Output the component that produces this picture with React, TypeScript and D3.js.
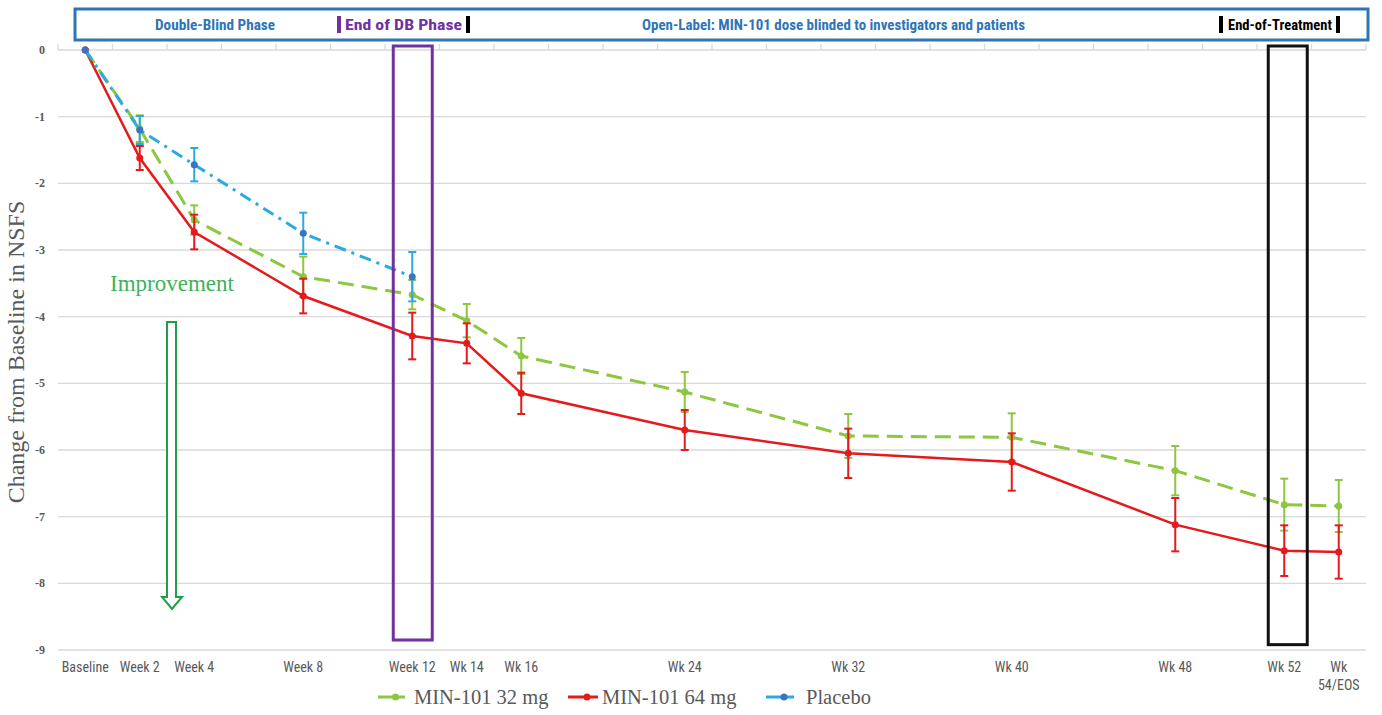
import React, { useRef, useEffect } from "react";
import * as d3 from "d3";

// visits on the x axis; slot = position on the category axis (blank categories in between)
const categories = ["Baseline", "Week 2", "Week 4", "Week 8", "Week 12", "Wk 14", "Wk 16", "Wk 24", "Wk 32", "Wk 40", "Wk 48", "Wk 52", "Wk 54/EOS"];
const slots = [0, 1, 2, 4, 6, 7, 8, 11, 14, 17, 20, 22, 23];
const slotCount = 24;

const mg32 = [0, -1.18, -2.55, -3.4, -3.67, -4.06, -4.59, -5.13, -5.79, -5.81, -6.31, -6.82, -6.84];
const mg32Err = [0, 0.2, 0.22, 0.3, 0.22, 0.25, 0.27, 0.3, 0.33, 0.36, 0.37, 0.39, 0.39];
const mg64 = [0, -1.62, -2.73, -3.69, -4.29, -4.4, -5.15, -5.7, -6.05, -6.18, -7.12, -7.51, -7.53];
const mg64Err = [0, 0.18, 0.26, 0.26, 0.35, 0.3, 0.31, 0.3, 0.37, 0.43, 0.4, 0.38, 0.4];
const placebo = [0, -1.2, -1.72, -2.75, -3.4];
const placeboErr = [0, 0.21, 0.25, 0.31, 0.37];

const yTicks = [0, -1, -2, -3, -4, -5, -6, -7, -8, -9];

const narrow = "'Liberation Sans Narrow', 'Arial Narrow', 'Roboto Condensed', 'Open Sans', sans-serif";
const serif = "'Liberation Serif', 'Times New Roman', serif";

function App() {
  const svgRef = useRef<SVGSVGElement>(null);

  useEffect(() => {
    const svg = d3.select(svgRef.current);
    svg.selectAll("*").remove();

    const x = d3.scaleBand<number>().domain(d3.range(slotCount)).range([58, 1366]).padding(0);
    const cx = (i: number) => (x(slots[i]) as number) + x.bandwidth() / 2;
    const y = d3.scaleLinear().domain([-9, 0]).range([650, 50]);

    // gridlines
    svg.append("g")
      .selectAll("line")
      .data(yTicks)
      .join("line")
      .attr("x1", 58).attr("x2", 1366)
      .attr("y1", (d) => y(d)).attr("y2", (d) => y(d))
      .attr("stroke", "#d9d9d9").attr("stroke-width", 1.3);

    // category tick marks on the zero line
    svg.append("g")
      .selectAll("line")
      .data(d3.range(slotCount + 1))
      .join("line")
      .attr("x1", (d) => 58 + d * x.step()).attr("x2", (d) => 58 + d * x.step())
      .attr("y1", y(0)).attr("y2", y(0) - 6)
      .attr("stroke", "#d9d9d9").attr("stroke-width", 1.3);

    // y tick labels
    svg.append("g")
      .selectAll("text")
      .data(yTicks)
      .join("text")
      .attr("x", 45).attr("y", (d) => y(d) + 4)
      .attr("text-anchor", "end")
      .attr("font-family", serif).attr("font-size", 12).attr("font-weight", "bold")
      .attr("fill", "#595959")
      .text((d) => String(d));

    svg.append("text")
      .attr("transform", "translate(24,352) rotate(-90)")
      .attr("text-anchor", "middle")
      .attr("font-family", serif).attr("font-size", 24)
      .attr("fill", "#595959")
      .text("Change from Baseline in NSFS");

    // x labels
    const xl = svg.append("g")
      .attr("font-family", narrow).attr("font-size", 14)
      .attr("fill", "#595959").attr("text-anchor", "middle");
    categories.forEach((c, i) => {
      const parts = c === "Wk 54/EOS" ? ["Wk", "54/EOS"] : [c];
      parts.forEach((p, j) => {
        xl.append("text").attr("x", cx(i)).attr("y", 672 + j * 18).text(p);
      });
    });

    // header box
    svg.append("rect")
      .attr("x", 75).attr("y", 9).attr("width", 1293).attr("height", 31)
      .attr("fill", "white").attr("stroke", "#2e75b6").attr("stroke-width", 3);
    const hd = svg.append("g").attr("font-family", narrow).attr("font-size", 14).attr("font-weight", "bold")
      .attr("lengthAdjust", "spacingAndGlyphs");
    const htext = (x0: number, w: number, fill: string, t: string) =>
      hd.append("text").attr("x", x0).attr("y", 30).attr("textLength", w)
        .attr("lengthAdjust", "spacingAndGlyphs").attr("fill", fill).text(t);
    htext(155, 120, "#2e75b6", "Double-Blind Phase");
    hd.append("rect").attr("x", 337).attr("y", 16).attr("width", 4).attr("height", 17).attr("fill", "#7030a0");
    htext(345, 117, "#7030a0", "End of DB Phase");
    hd.append("rect").attr("x", 466).attr("y", 16).attr("width", 4).attr("height", 17).attr("fill", "#000");
    htext(642, 383, "#2e75b6", "Open-Label: MIN-101 dose blinded to investigators and patients");
    hd.append("rect").attr("x", 1219).attr("y", 16).attr("width", 4).attr("height", 17).attr("fill", "#000");
    htext(1228, 104, "#000", "End-of-Treatment");
    hd.append("rect").attr("x", 1336).attr("y", 16).attr("width", 4).attr("height", 17).attr("fill", "#000");

    // improvement arrow
    svg.append("text")
      .attr("x", 172).attr("y", 291).attr("text-anchor", "middle")
      .attr("font-family", serif).attr("font-size", 23).attr("fill", "#3cb35a")
      .text("Improvement");
    svg.append("path")
      .attr("d", "M167,322 L176,322 L176,597 L182,597 L172,609 L162,597 L167,597 Z")
      .attr("fill", "white").attr("stroke", "#1e9e48").attr("stroke-width", 2);

    const series = [
      { vals: mg32, err: mg32Err, color: "#8dc63f", errColor: "#8dc63f", dot: "#8dc63f", dash: "16,8", width: 3 },
      { vals: mg64, err: mg64Err, color: "#e41a1c", errColor: "#e41a1c", dot: "#e41a1c", dash: null, width: 2.5 },
      { vals: placebo, err: placeboErr, color: "#29abe2", errColor: "#29abe2", dot: "#3d74c0", dash: "12,6,3,6", width: 3 },
    ];

    series.forEach((s) => {
      const g = svg.append("g");
      const line = d3.line<number>().x((_, i) => cx(i)).y((d) => y(d));
      g.append("path")
        .attr("d", line(s.vals))
        .attr("fill", "none").attr("stroke", s.color).attr("stroke-width", s.width)
        .attr("stroke-dasharray", s.dash);
      const pts = s.vals.map((v, i) => ({ v, e: s.err[i], i })).filter((d) => d.e > 0);
      g.selectAll("line.eb").data(pts).join("line")
        .attr("x1", (d) => cx(d.i)).attr("x2", (d) => cx(d.i))
        .attr("y1", (d) => y(d.v + d.e)).attr("y2", (d) => y(d.v - d.e))
        .attr("stroke", s.errColor).attr("stroke-width", 2);
      [1, -1].forEach((sg) => {
        g.selectAll(null).data(pts).join("line")
          .attr("x1", (d) => cx(d.i) - 4).attr("x2", (d) => cx(d.i) + 4)
          .attr("y1", (d) => y(d.v + sg * d.e)).attr("y2", (d) => y(d.v + sg * d.e))
          .attr("stroke", s.errColor).attr("stroke-width", 2);
      });
      g.selectAll("circle").data(s.vals).join("circle")
        .attr("cx", (_, i) => cx(i)).attr("cy", (d) => y(d)).attr("r", 3.5)
        .attr("fill", s.dot);
    });

    // highlight boxes around Week 12 and Wk 52
    svg.append("rect")
      .attr("x", cx(4) - 19).attr("y", 46).attr("width", 39).attr("height", y(-8.85) - 46)
      .attr("fill", "none").attr("stroke", "#7030a0").attr("stroke-width", 3);
    svg.append("rect")
      .attr("x", cx(11) - 16).attr("y", 46).attr("width", 39).attr("height", y(-8.92) - 46)
      .attr("fill", "none").attr("stroke", "#111").attr("stroke-width", 3);

    // legend
    const lg = svg.append("g").attr("font-family", serif).attr("font-size", 20.5).attr("fill", "#595959");
    const legend = [
      { label: "MIN-101 32 mg", color: "#8dc63f", dot: "#8dc63f", x0: 378, x1: 405, tx: 414 },
      { label: "MIN-101 64 mg", color: "#e41a1c", dot: "#e41a1c", x0: 568, x1: 598, tx: 602 },
      { label: "Placebo", color: "#29abe2", dot: "#3d74c0", x0: 766, x1: 794, tx: 806 },
    ];
    legend.forEach((l) => {
      lg.append("line").attr("x1", l.x0).attr("x2", l.x1).attr("y1", 697).attr("y2", 697)
        .attr("stroke", l.color).attr("stroke-width", 3);
      lg.append("circle").attr("cx", (l.x0 + l.x1) / 2 + 4).attr("cy", 697).attr("r", 3.5).attr("fill", l.dot);
      lg.append("text").attr("x", l.tx).attr("y", 704).text(l.label);
    });
  }, []);

  return (
    <svg ref={svgRef} width={1382} height={715} style={{ position: "absolute", left: 0, top: 0, background: "white" }}></svg>
  );
}

export default App;
